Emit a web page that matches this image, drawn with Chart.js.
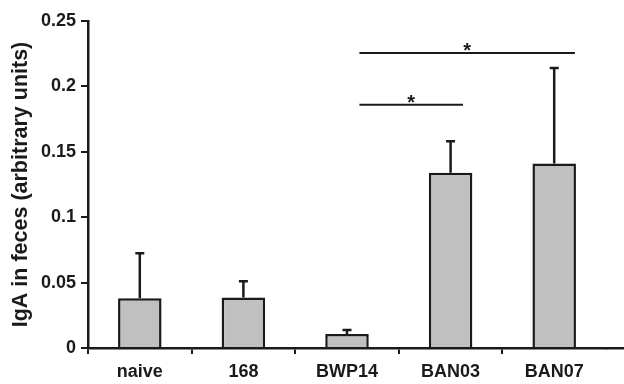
<!DOCTYPE html>
<html>
<head>
<meta charset="utf-8">
<script src="https://cdn.jsdelivr.net/npm/chart.js@4"></script>
<style>
  html, body { margin: 0; padding: 0; background: #fff; }
  #wrap { width: 624px; height: 384px; }
</style>
</head>
<body>
<div id="wrap"><canvas id="igaChart" width="624" height="384"></canvas></div>
<script>
const categories = ['naive', '168', 'BWP14', 'BAN03', 'BAN07'];
const means = [0.038, 0.0386, 0.0107, 0.134, 0.141];
const errorTops = [0.0724, 0.051, 0.0137, 0.158, 0.214];
const yTicks = [0, 0.05, 0.1, 0.15, 0.2, 0.25];
const yTickLabels = ['0', '0.05', '0.1', '0.15', '0.2', '0.25'];
// significance brackets: from category, to category, height, label
const sigFrom = [2, 2];
const sigTo = [3, 4];
const sigLevel = [0.186, 0.2255];
const sigLabel = ['*', '*'];

const FONT = '"Liberation Sans", Arial, sans-serif';
const AXIS_W = 2.5;

const errorBars = {
    id: 'errorBars',
    afterDraw(chart) {
        const ctx = chart.ctx;
        const x = chart.scales.x, y = chart.scales.y;
        const meta = chart.getDatasetMeta(0);
        ctx.save();
        ctx.strokeStyle = '#1a1a1a';
        ctx.lineWidth = 2.5;
        meta.data.forEach((bar, i) => {
            const yTop = y.getPixelForValue(errorTops[i]);
            const yBase = y.getPixelForValue(means[i]);
            ctx.beginPath();
            ctx.moveTo(bar.x, yBase);
            ctx.lineTo(bar.x, yTop);
            ctx.moveTo(bar.x - 4.5, yTop);
            ctx.lineTo(bar.x + 4.5, yTop);
            ctx.stroke();
        });
        // significance lines
        const step = x.getPixelForValue(1) - x.getPixelForValue(0);
        ctx.lineWidth = 2;
        ctx.fillStyle = '#1a1a1a';
        ctx.font = 'bold 20px ' + FONT;
        ctx.textAlign = 'center';
        ctx.textBaseline = 'alphabetic';
        sigFrom.forEach((f, i) => {
            const x1 = x.getPixelForValue(f) + step * 0.12;
            const x2 = x.getPixelForValue(sigTo[i]) + step * (sigTo[i] === 4 ? 0.2 : 0.12);
            const yy = y.getPixelForValue(sigLevel[i]);
            ctx.beginPath();
            ctx.moveTo(x1, yy);
            ctx.lineTo(x2, yy);
            ctx.stroke();
            ctx.fillText(sigLabel[i], (x1 + x2) / 2, yy + 4);
        });
        // x axis line continues to the right edge (same pixel alignment as the border)
        const y0 = Math.round(x.top - AXIS_W / 2) + AXIS_W / 2;
        ctx.lineWidth = AXIS_W;
        ctx.beginPath();
        ctx.moveTo(x.right, y0);
        ctx.lineTo(chart.width, y0);
        ctx.stroke();
        ctx.restore();
    }
};

const ctx = document.getElementById('igaChart').getContext('2d');
new Chart(ctx, {
    type: 'bar',
    data: {
        labels: categories,
        datasets: [{
            data: means,
            backgroundColor: '#c0c0c0',
            borderColor: '#1a1a1a',
            borderWidth: 2.5,
            borderSkipped: 'bottom',
            barPercentage: 0.42,
            categoryPercentage: 1.0
        }]
    },
    options: {
        responsive: false,
        animation: false,
        layout: { padding: { top: 21, right: 18, left: 0, bottom: 0 } },
        plugins: {
            legend: { display: false },
            tooltip: { enabled: false }
        },
        scales: {
            x: {
                grid: {
                    offset: true,
                    drawOnChartArea: false,
                    color: c => (c.type === 'tick' ? '#1a1a1a' : 'rgba(0,0,0,0)'),
                    lineWidth: 2,
                    tickLength: 6
                },
                border: { color: '#1a1a1a', width: AXIS_W },
                ticks: {
                    color: '#1a1a1a',
                    padding: 7,
                    font: { family: FONT, size: 18, weight: 'bold' }
                },
                afterFit(scale) { scale.height = 36; }
            },
            y: {
                min: 0,
                max: 0.25,
                afterBuildTicks(scale) {
                    scale.ticks = yTicks.map(v => ({ value: v }));
                },
                grid: {
                    drawOnChartArea: false,
                    color: '#1a1a1a',
                    lineWidth: 2,
                    tickLength: 7
                },
                border: { color: '#1a1a1a', width: AXIS_W },
                ticks: {
                    color: '#1a1a1a',
                    padding: 5,
                    font: { family: FONT, size: 18, weight: 'bold' },
                    callback: (v, i) => yTickLabels[i]
                },
                title: {
                    display: true,
                    text: 'IgA in feces (arbitrary units)',
                    color: '#1a1a1a',
                    padding: { top: 8, bottom: 0 },
                    font: { family: FONT, size: 21.5, weight: 'bold' }
                },
                afterFit(scale) { scale.width = 88; }
            }
        }
    },
    plugins: [errorBars]
});
</script>
</body>
</html>
